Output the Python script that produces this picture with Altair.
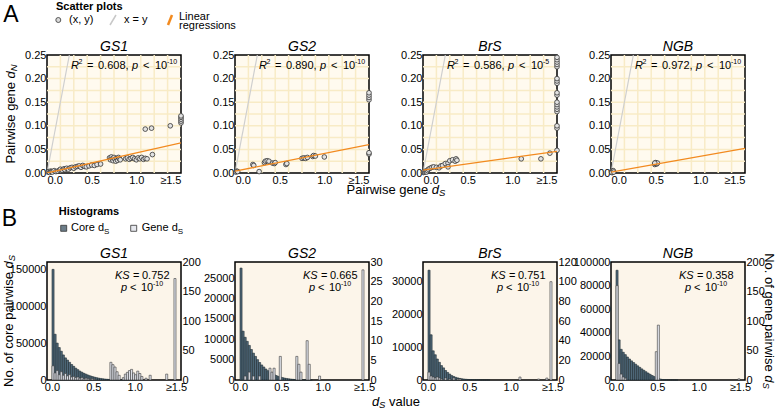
import altair as alt
import pandas as pd

FONT = "Liberation Sans"
W, H = 134, 118
BIN = 0.025

SCAT_BG = "#fffaef"
GRID = "#f8ebc6"
HIST_BG = "#fcf5ea"
CORE = "#50697a"
GENE = "#dfe2ea"
ORANGE = "#f28a1f"
DIAG = "#cfcfcf"

genes = ["GS1", "GS2", "BrS", "NGB"]

# ---- scatter data: pairwise dS vs dN (values beyond the axis pinned at 1.5)
gs1_ds = [0.01, 0.02, 0.03, 0.04, 0.05, 0.06, 0.08, 0.10, 0.12, 0.14,
          0.15, 0.17, 0.19, 0.20, 0.22, 0.24, 0.26, 0.28, 0.30, 0.32,
          0.34, 0.36, 0.38, 0.40, 0.42, 0.44, 0.47, 0.50, 0.53, 0.56, 0.60,
          0.70, 0.71, 0.72, 0.73, 0.74, 0.75, 0.76, 0.77, 0.78, 0.79, 0.80, 0.81, 0.82,
          0.88, 0.90, 0.92, 0.94, 0.96, 0.98, 1.00, 1.02, 1.04, 1.06, 1.08, 1.10, 1.12,
          1.18, 1.10, 1.17, 1.38, 1.5, 1.5, 1.5, 1.5, 1.5]
gs1_dn = [0.002, 0.003, 0.001, 0.004, 0.003, 0.002, 0.005, 0.003, 0.004, 0.006,
          0.008, 0.006, 0.009, 0.007, 0.010, 0.008, 0.011, 0.012, 0.010, 0.013,
          0.014, 0.015, 0.012, 0.016, 0.014, 0.013, 0.015, 0.017, 0.016, 0.018, 0.019,
          0.032, 0.028, 0.034, 0.030, 0.026, 0.033, 0.029, 0.025, 0.031, 0.027, 0.033, 0.030, 0.028,
          0.030, 0.032, 0.029, 0.031, 0.033, 0.030, 0.028, 0.032, 0.030, 0.033, 0.029, 0.031, 0.030,
          0.039, 0.093, 0.095, 0.100, 0.106, 0.110, 0.114, 0.118, 0.121]

gs2_ds = [0.01, 0.02, 0.03, 0.20, 0.21, 0.27, 0.33, 0.34, 0.36, 0.38,
          0.42, 0.44, 0.45, 0.57, 0.58, 0.75, 0.77, 0.79, 0.81, 0.87,
          0.88, 0.90, 1.00, 1.5, 1.5, 1.5, 1.5, 1.5, 1.5]
gs2_dn = [0.002, 0.004, 0.003, 0.018, 0.016, 0.003, 0.022, 0.025, 0.026, 0.025,
          0.021, 0.020, 0.022, 0.018, 0.020, 0.031, 0.032, 0.031, 0.033, 0.035,
          0.037, 0.036, 0.034, 0.040, 0.043, 0.155, 0.160, 0.165, 0.170]

brs_ds = [0.005, 0.01, 0.02, 0.03, 0.04, 0.05, 0.06, 0.08, 0.10, 0.12,
          0.15, 0.18, 0.20, 0.22, 0.25, 0.28, 0.28, 0.30, 0.33, 0.36,
          0.37, 0.38, 1.10, 1.32, 1.42,
          1.5, 1.5, 1.5, 1.5, 1.5, 1.5, 1.5, 1.5, 1.5,
          1.5, 1.5, 1.5, 1.5, 1.5, 1.5, 1.5, 1.5, 1.5]
brs_dn = [0.001, 0.003, 0.002, 0.004, 0.002, 0.005, 0.008, 0.010, 0.012, 0.013,
          0.012, 0.011, 0.015, 0.016, 0.020, 0.021, 0.013, 0.026, 0.028, 0.025,
          0.030, 0.027, 0.030, 0.030, 0.042,
          0.048, 0.095, 0.100, 0.130, 0.135, 0.140, 0.145, 0.150, 0.165,
          0.170, 0.190, 0.195, 0.200, 0.225, 0.230, 0.235, 0.240, 0.245]

ngb_ds = [0.005, 0.01, 0.015, 0.02, 0.025, 0.01, 0.03, 0.49, 0.50, 0.51, 0.50, 0.52, 0.49]
ngb_dn = [0.002, 0.004, 0.001, 0.003, 0.005, 0.001, 0.002, 0.018, 0.020, 0.019, 0.022, 0.021, 0.021]

scatter_ds = [gs1_ds, gs2_ds, brs_ds, ngb_ds]
scatter_dn = [gs1_dn, gs2_dn, brs_dn, ngb_dn]

# linear regression end points (dN at dS = 0 and dS = 1.5)
reg_start = [0.000, 0.004, 0.006, 0.002]
reg_end = [0.064, 0.060, 0.046, 0.052]
r2_values = ["0.608", "0.890", "0.586", "0.972"]
r2_pexp = ["-10", "-10", "-5", "-10"]

# ---- histogram counts, bins of 0.025 from 0 to 1.5 (last bin holds >=1.5)
gs1_core = [150000, 62000, 50000, 44000, 39000, 34000, 30000, 27000, 24000, 21000,
            18500, 16000, 14000, 12000, 10500, 9000, 7800, 6600, 5600, 4700,
            3900, 3200, 2600, 2100, 1700, 1300, 1000, 800, 600, 450,
            350, 250, 180, 130, 90, 60, 40, 30, 20, 10,
            5, 0, 0, 0, 0, 0, 0, 0, 0, 0,
            0, 0, 0, 0, 0, 0, 0, 0, 0, 0]
gs1_gene = [24, 12, 16, 9, 14, 8, 11, 7, 9, 5,
            6, 4, 5, 3, 4, 2, 3, 2, 1, 2,
            1, 0, 0, 0, 0, 0, 0, 0, 30, 26,
            22, 14, 8, 0, 4, 10, 13, 16, 18, 12,
            9, 15, 11, 6, 0, 3, 0, 8, 0, 0,
            0, 0, 0, 0, 0, 10, 0, 0, 0, 172]
gs2_core = [27500, 12000, 10500, 9500, 8500, 7500, 6600, 5800, 5000, 4300,
            3700, 3200, 2700, 2300, 1900, 1600, 1350, 1100, 900, 750,
            600, 480, 380, 300, 230, 170, 130, 100, 70, 50,
            35, 25, 15, 10, 5, 0, 0, 0, 0, 0,
            0, 0, 0, 0, 0, 0, 0, 0, 0, 0,
            0, 0, 0, 0, 0, 0, 0, 0, 0, 0]
gs2_gene = [0, 0, 1, 0, 2, 0, 1, 0, 0, 1,
            0, 0, 0, 0, 3, 2, 3, 0, 0, 6,
            0, 0, 0, 0, 0, 0, 0, 6, 4, 2,
            0, 0, 10, 4, 0, 0, 0, 0, 1, 0,
            0, 0, 0, 0, 0, 0, 0, 0, 0, 0,
            0, 0, 0, 0, 0, 0, 0, 0, 0, 28]
brs_core = [33500, 13800, 8900, 7700, 6400, 5400, 4400, 3700, 2900, 2300,
            1800, 1350, 1050, 800, 620, 480, 370, 280, 210, 160,
            120, 90, 65, 45, 30, 20, 12, 8, 5, 3,
            0, 0, 0, 0, 0, 0, 0, 0, 0, 0,
            0, 0, 0, 0, 0, 0, 0, 0, 0, 0,
            0, 0, 0, 0, 0, 0, 0, 0, 0, 0]
brs_gene = [8, 4, 3, 2, 3, 2, 1, 0, 2, 0,
            1, 0, 2, 0, 1, 1, 0, 0, 0, 0,
            0, 0, 0, 0, 0, 0, 0, 0, 0, 0,
            0, 0, 0, 0, 0, 0, 0, 0, 0, 0,
            0, 0, 0, 0, 3, 0, 0, 0, 0, 0,
            0, 0, 0, 1, 0, 0, 0, 2, 0, 100]
ngb_core = [93000, 34000, 26000, 23500, 21500, 19500, 17800, 16200, 14800, 13400,
            12000, 10700, 9400, 8200, 7000, 5900, 4800, 3800, 2900, 2000,
            1300, 800, 450, 250, 120, 60, 30, 15, 8, 4,
            0, 0, 0, 0, 0, 0, 0, 0, 0, 0,
            0, 0, 0, 0, 0, 0, 0, 0, 0, 0,
            0, 0, 0, 0, 0, 0, 0, 0, 0, 0]
ngb_gene = [160, 28, 10, 5, 3, 0, 0, 0, 0, 0,
            0, 0, 0, 0, 0, 0, 0, 0, 0, 48,
            93, 0, 0, 0, 0, 0, 0, 0, 0, 0,
            0, 0, 0, 0, 0, 0, 0, 0, 0, 0,
            0, 0, 0, 0, 0, 0, 0, 0, 0, 0,
            0, 0, 0, 0, 0, 0, 0, 0, 0, 2]

core_counts = [gs1_core, gs2_core, brs_core, ngb_core]
gene_counts = [gs1_gene, gs2_gene, brs_gene, ngb_gene]
core_max = [160000, 29000, 36000, 100000]
core_ticks = [[0, 50000, 100000, 150000],
              [0, 5000, 10000, 15000, 20000, 25000],
              [0, 10000, 20000, 30000],
              [0, 20000, 40000, 60000, 80000, 100000]]
gene_max = [200, 30, 120, 200]
gene_ticks = [[0, 50, 100, 150, 200],
              [0, 5, 10, 15, 20, 25, 30],
              [0, 20, 40, 60, 80, 100, 120],
              [0, 50, 100, 150, 200]]
ks_values = ["0.752", "0.665", "0.751", "0.358"]

X_TICKS = [0, 0.5, 1.0, 1.5]
X_LABELS = "datum.value >= 1.5 ? '\u22651.5' : format(datum.value, '.1f')"
GRID_X = [0.15, 0.30, 0.45, 0.60, 0.75, 0.90, 1.05, 1.20, 1.35]
GRID_Y = [0.025, 0.05, 0.075, 0.10, 0.125, 0.15, 0.175, 0.20, 0.225]


def txt(s, x, y, size=11, style="normal", weight="normal", color="black",
        align="left", angle=0, baseline="middle"):
    return alt.Chart(alt.Data(values=[{"t": s}])).mark_text(
        fontSize=size, fontStyle=style, fontWeight=weight, color=color,
        align=align, angle=angle, baseline=baseline, font=FONT,
    ).encode(text="t:N", x=alt.value(x), y=alt.value(y))


def slash(x1, y1, x2, y2, color, width):
    return alt.Chart(alt.Data(values=[{}])).mark_rule(
        color=color, strokeWidth=width
    ).encode(x=alt.value(x1), y=alt.value(y1), x2=alt.value(x2), y2=alt.value(y2))


def panel_title(name):
    # gene name centred above the plot frame
    return txt(name, W / 2, -4, size=14, style="italic", align="center", baseline="alphabetic")


def x_enc(field):
    return alt.X(field, scale=alt.Scale(domain=[0, 1.5], nice=False, zero=False),
                 axis=alt.Axis(values=X_TICKS, labelExpr=X_LABELS, title=None))


def scatter_panel(i):
    y_scale = alt.Scale(domain=[0, 0.25], nice=False)
    y_axis = alt.Axis(values=[0, 0.05, 0.10, 0.15, 0.20, 0.25], format=".2f", title=None)
    pts = pd.DataFrame({"x": scatter_ds[i], "y": scatter_dn[i]})
    gx = alt.Chart(pd.DataFrame({"x": GRID_X})).mark_rule(color=GRID, strokeWidth=1.5).encode(
        x=x_enc("x:Q"))
    gy = alt.Chart(pd.DataFrame({"y": GRID_Y})).mark_rule(color=GRID, strokeWidth=1.5).encode(
        y=alt.Y("y:Q", scale=y_scale, axis=y_axis))
    diag = alt.Chart(pd.DataFrame({"x": [0, 0.25], "y": [0, 0.25]})).mark_line(
        color=DIAG, strokeWidth=1.2).encode(x=x_enc("x:Q"), y=alt.Y("y:Q", scale=y_scale, axis=y_axis))
    dots = alt.Chart(pts).mark_point(
        shape="circle", filled=True, fill="#e2e2e2", stroke="#333333",
        strokeWidth=0.8, size=22, opacity=1,
    ).encode(x=x_enc("x:Q"), y=alt.Y("y:Q", scale=y_scale, axis=y_axis))
    reg = alt.Chart(pd.DataFrame({"x": [0, 1.5], "y": [reg_start[i], reg_end[i]]})).mark_line(
        color=ORANGE, strokeWidth=1.3, clip=True).encode(
        x=x_enc("x:Q"), y=alt.Y("y:Q", scale=y_scale, axis=y_axis))

    s = 24
    ty = 11
    stat = [
        txt("R", s, ty, style="italic"),
        txt("2", s + 7.5, ty - 4, size=7),
        txt("=", s + 16, ty),
        txt(r2_values[i] + ",", s + 27, ty),
        txt("p", s + 61, ty, style="italic"),
        txt("<", s + 72, ty),
        txt("10", s + 84, ty),
        txt(r2_pexp[i], s + 96, ty - 4, size=7),
    ]
    layers = [gx, gy, diag, dots, reg] + stat + [panel_title(genes[i])]
    if i == 0:
        layers += [
            txt("A", -36, -40, size=23, align="center"),
            txt("Scatter plots", 9, -48, weight="bold"),
            alt.Chart(alt.Data(values=[{}])).mark_point(
                shape="circle", filled=True, fill="#d9d9d9", stroke="#333333",
                strokeWidth=0.8, size=25, opacity=1,
            ).encode(x=alt.value(11.3), y=alt.value(-35)),
            txt("(x, y)", 22, -35),
            slash(63, -30, 69, -40, "#c8c8c8", 1.5),
            txt("x = y", 77, -35),
            slash(121, -30, 125, -40, ORANGE, 2.5),
            txt("Linear", 132, -38.5),
            txt("regressions", 132, -29.5),
            # y title: Pairwise gene dN
            txt("Pairwise gene", -36, 108.6, size=13, angle=270),
            txt("d", -36, 23.4, size=13, style="italic", angle=270),
            txt("N", -33, 16.2, size=9.5, style="italic", angle=270),
            # x title: Pairwise gene dS
            txt("Pairwise gene", 299.6, 135, size=13),
            txt("d", 384.8, 135, size=13, style="italic"),
            txt("S", 392, 138, size=9.5, style="italic"),
        ]
    return alt.layer(*layers).properties(
        width=W, height=H,
        view=alt.ViewBackground(fill=SCAT_BG, stroke="black", strokeWidth=1.5),
    )


def hist_panel(i):
    starts = [k * BIN for k in range(len(core_counts[i]))]
    df = pd.DataFrame({"start": starts, "core": core_counts[i], "gene": gene_counts[i]})
    df["end"] = df["start"] + BIN
    core = alt.Chart(df).transform_filter("datum.core > 0").mark_bar(
        orient="vertical", fill=CORE, stroke="#1f2b33", strokeWidth=0.6
    ).encode(
        x=x_enc("start:Q"), x2="end:Q",
        y=alt.Y("core:Q", scale=alt.Scale(domain=[0, core_max[i]], nice=False),
                axis=alt.Axis(orient="left", values=core_ticks[i], format="d", title=None)),
    )
    gene = alt.Chart(df).transform_filter("datum.gene > 0").mark_bar(
        orient="vertical", fill=GENE, stroke="#3a3a3a", strokeWidth=0.6
    ).encode(
        x=x_enc("start:Q"), x2="end:Q",
        y=alt.Y("gene:Q", scale=alt.Scale(domain=[0, gene_max[i]], nice=False),
                axis=alt.Axis(orient="right", values=gene_ticks[i], format="d", title=None)),
    )
    stat = [
        txt("KS", 68, 14, style="italic"),
        txt("=", 86, 14),
        txt(ks_values[i], 95, 14),
        txt("p", 74, 26, style="italic"),
        txt("<", 83, 26),
        txt("10", 94, 26),
        txt("-10", 106, 22, size=7),
    ]
    layers = [core, gene] + stat + [panel_title(genes[i])]
    if i == 0:
        layers += [
            txt("B", -37.7, -43, size=23, align="center"),
            txt("Histograms", 11.7, -50.5, weight="bold"),
            alt.Chart(alt.Data(values=[{}])).mark_point(
                shape="square", filled=True, fill="#6c7d89", stroke="#333333",
                strokeWidth=0.8, size=36, opacity=1,
            ).encode(x=alt.value(16.7), y=alt.value(-33.7)),
            txt("Core d", 24, -33.7),
            txt("S", 57, -30.5, size=8),
            alt.Chart(alt.Data(values=[{}])).mark_point(
                shape="square", filled=True, fill="#e6e8ee", stroke="#333333",
                strokeWidth=0.8, size=36, opacity=1,
            ).encode(x=alt.value(86.7), y=alt.value(-33.7)),
            txt("Gene d", 94.7, -33.7),
            txt("S", 130.7, -30.5, size=8),
            # left y title: No. of core pairwise dS
            txt("No. of core pairwise", -38, 125, size=13, angle=270),
            txt("d", -38, 6.5, size=13, style="italic", angle=270),
            txt("S", -35, -0.7, size=9.5, style="italic", angle=270),
            # x title: dS value
            txt("d", 324.9, 140, size=13, style="italic"),
            txt("S", 332.1, 143, size=9.5, style="italic"),
            txt("value", 342, 140, size=13),
        ]
    if i == 3:
        layers += [
            txt("No. of gene pairwise", 158, -8.8, size=13, angle=90),
            txt("d", 158, 113.3, size=13, style="italic", angle=90),
            txt("S", 155, 120.5, size=9.5, style="italic", angle=90),
        ]
    return alt.layer(*layers).resolve_scale(y="independent").properties(
        width=W, height=H,
        view=alt.ViewBackground(fill=HIST_BG, stroke="black", strokeWidth=1.5),
    )


panels = [scatter_panel(i) for i in range(4)] + [hist_panel(i) for i in range(4)]

chart = alt.concat(
    *panels, columns=4, bounds="flush",
    spacing=alt.RowColnumber(row=89, column=54),
).properties(
    padding={"left": 0, "top": 0, "right": 0, "bottom": 0},
    background="white",
).configure(font=FONT).configure_axis(
    labelFont=FONT, labelFontSize=11, labelColor="black", ticks=False,
    tickSize=0, domain=False, grid=False, labelPadding=1,
)

chart.save("out.html", embed_options={"renderer": "svg", "actions": False})
